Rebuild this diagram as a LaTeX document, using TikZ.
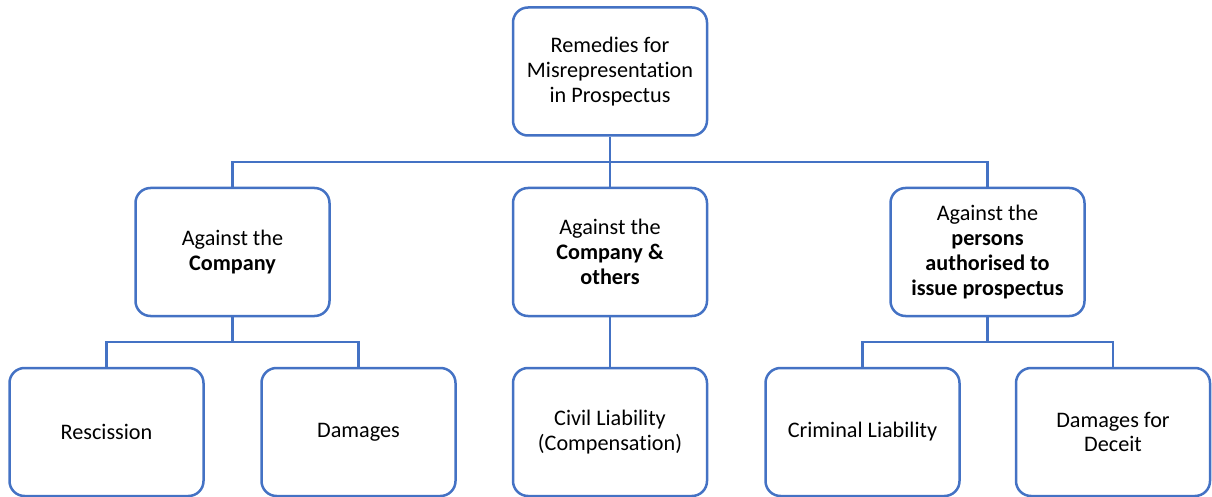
\documentclass[tikz,border=0pt]{standalone}
\usepackage{fontspec}
\setmainfont[Ligatures=NoCommon]{Carlito}
\definecolor{boxblue}{RGB}{68,114,196}
\begin{document}
\begin{tikzpicture}[x=1pt,y=1pt,
  box/.style={draw=boxblue, line width=2.5pt, fill=white, rounded corners=15pt,
    minimum width=194pt, minimum height=128pt, align=center, text=black,
    font=\fontsize{22.2}{24.8}\selectfont, inner sep=2pt},
  link/.style={draw=boxblue, line width=2.5pt}]
\useasboundingbox (0,0) rectangle (1212,-497);

% root
\node[box] (top) at (610,-71.5) {Remedies for\\Misrepresentation\\in Prospectus};

% second level
\node[box] (L) at (232.5,-252) {Against the\\\textbf{Company}};
\node[box] (M) at (610,-252) {Against the\\\textbf{Company \&}\\\textbf{others}};
\node[box] (R) at (987.5,-252) {Against the\\\textbf{persons}\\\textbf{authorised to}\\\textbf{issue prospectus}};

% third level
\node[box] (A) at (106.5,-432) {Rescission};
\node[box] (B) at (358.5,-432) {Damages};
\node[box] (C) at (610,-432) {Civil Liability\\(Compensation)};
\node[box] (D) at (862.5,-432) {Criminal Liability};
\node[box] (E) at (1113,-432) {Damages for\\Deceit};

% bus levels
\coordinate (b1) at (610,-162);
\coordinate (b2) at (232.5,-342);
\coordinate (b3) at (987.5,-342);

% connectors
\draw[link] (top.south) -- (M.north);
\draw[link] (L.north) |- (b1) -| (R.north);
\draw[link] (L.south) -- (b2);
\draw[link] (A.north) |- (b2) -| (B.north);
\draw[link] (M.south) -- (C.north);
\draw[link] (R.south) -- (b3);
\draw[link] (D.north) |- (b3) -| (E.north);
\end{tikzpicture}
\end{document}
